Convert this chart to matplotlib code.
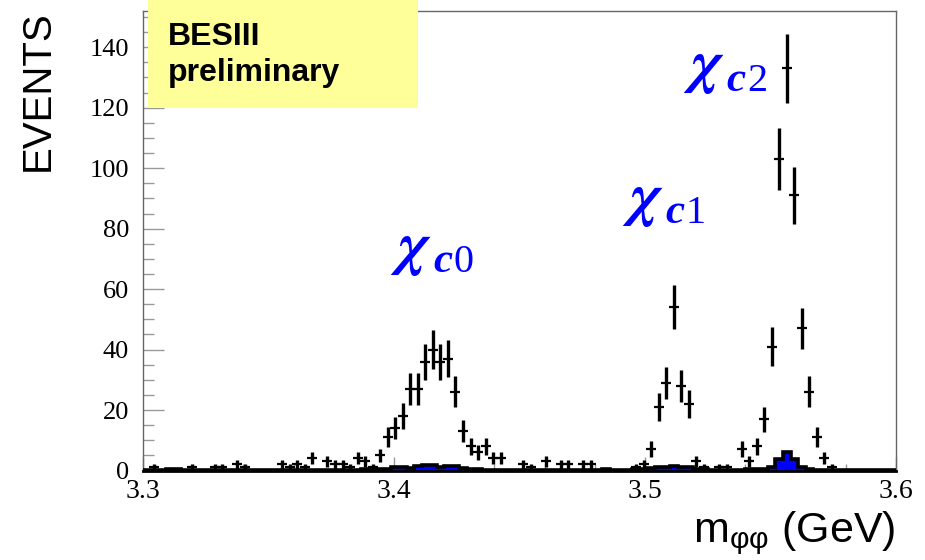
import matplotlib
matplotlib.use("Agg")
import matplotlib.pyplot as plt
import numpy as np
from matplotlib.patches import Rectangle
from matplotlib.ticker import MultipleLocator

# m(phi phi) histogram, 100 bins of 3 MeV from 3.3 to 3.6 GeV
mass_lo, mass_hi, n_bins = 3.3, 3.6, 100

# data counts per bin
counts = [
    0, 1, 0, 0, 0, 0, 1, 0, 0, 1,
    1, 0, 2, 1, 0, 0, 0, 0, 2, 1,
    2, 1, 4, 0, 3, 2, 2, 1, 4, 3,
    1, 5, 11, 14, 18, 27, 27, 36, 40, 36,
    37, 26, 13, 8, 6, 8, 4, 4, 0, 0,
    2, 1, 0, 3, 0, 2, 2, 0, 2, 2,
    0, 0, 0, 0, 0, 1, 2, 7, 21, 29,
    54, 28, 22, 3, 1, 0, 1, 1, 0, 7,
    3, 8, 17, 41, 103, 133, 91, 47, 26, 11,
    4, 1, 0, 0, 0, 0, 0, 0, 0, 0,
]

# background MC (blue filled histogram)
mc_bkg = [
    0.1, 0.1, 0.2, 0.4, 0.4, 0.2, 0.1, 0.2, 0.3, 0.2,
    0.2, 0.1, 0.2, 0.1, 0.1, 0.2, 0.2, 0.1, 0.2, 0.2,
    0.2, 0.2, 0.3, 0.3, 0.2, 0.2, 0.3, 0.3, 0.3, 0.4,
    0.5, 0.5, 0.6, 1.2, 1.2, 0.9, 1.6, 1.7, 1.7, 1.2,
    1.6, 1.6, 0.9, 0.5, 0.4, 0.3, 0.3, 0.2, 0.2, 0.2,
    0.2, 0.2, 0.2, 0.2, 0.2, 0.2, 0.2, 0.2, 0.2, 0.2,
    0.3, 0.4, 0.2, 0.2, 0.3, 0.4, 0.6, 0.7, 1.1, 1.3,
    1.4, 1.3, 1.1, 0.6, 0.4, 0.3, 0.3, 0.3, 0.3, 0.3,
    0.4, 0.6, 0.6, 1.3, 3.7, 6.2, 3.7, 1.3, 0.5, 0.3,
    0.2, 0.2, 0.1, 0.1, 0.1, 0.1, 0.1, 0.1, 0.1, 0.1,
]

# resonance labels: (left x in GeV, subscript baseline in events, subscript)
chi_labels = [
    (3.3984, 65.5, "0"),
    (3.4908, 81.8, "1"),
    (3.5151, 125.6, "2"),
]

counts = np.array(counts, dtype=float)
mc_bkg = np.array(mc_bkg)
edges = np.linspace(mass_lo, mass_hi, n_bins + 1)
centers = 0.5 * (edges[:-1] + edges[1:])
filled = counts > 0

fig = plt.figure(figsize=(9.25, 5.6), dpi=100)
ax = fig.add_axes([0.1546, 0.1598, 0.8140, 0.8206])

ax.stairs(mc_bkg, edges, fill=True, color="blue", zorder=2)
ax.stairs(mc_bkg, edges, color="black", lw=2.6, zorder=3)
ax.errorbar(
    centers[filled], counts[filled], yerr=np.sqrt(counts[filled]),
    fmt="_", color="black", ms=7, mew=1.6, elinewidth=2.4, capsize=0, zorder=4,
)

ax.set_xlim(mass_lo, mass_hi)
ax.set_ylim(0, 152)
ax.xaxis.set_major_locator(MultipleLocator(0.1))
ax.xaxis.set_minor_locator(MultipleLocator(0.02))
ax.yaxis.set_major_locator(MultipleLocator(20))
ax.yaxis.set_minor_locator(MultipleLocator(5))
ax.tick_params(which="both", direction="in", color="0.6", width=1,
               top=False, right=False)
ax.tick_params(axis="y", which="major", length=15, pad=10, labelsize=19)
ax.tick_params(axis="y", which="minor", length=8)
ax.tick_params(axis="x", which="major", length=10, pad=6, labelsize=20)
ax.tick_params(axis="x", which="minor", length=5)
ax.set_xticks([3.3, 3.4, 3.5, 3.6], ["3.3", "3.4", "3.5", "3.6"])
for lab in ax.get_xticklabels() + ax.get_yticklabels():
    lab.set_family("Liberation Serif")

for side in ["top", "right", "left"]:
    ax.spines[side].set_color("0.4")
    ax.spines[side].set_linewidth(1)
ax.spines["bottom"].set_color("black")
ax.spines["bottom"].set_linewidth(2)

for x0, y0, sub in chi_labels:
    ax.annotate(r"$\boldsymbol{\chi}$", (x0, y0), xytext=(0, 6), textcoords="offset points",
                fontsize=44, math_fontfamily="stix",
                color="blue", va="baseline", ha="left")
    ax.annotate("c", (x0, y0), xytext=(31, 0), textcoords="offset points",
                fontsize=31, style="italic", weight="bold", family="Liberation Serif",
                color="blue", va="baseline", ha="left")
    ax.annotate(sub, (x0, y0), xytext=(46, 0), textcoords="offset points",
                fontsize=29, family="Liberation Serif",
                color="blue", va="baseline", ha="left")

fig.text(895 / 925, 1 - 542 / 560, r"m$_{\mathregular{φφ}}$ (GeV)", ha="right",
         va="baseline", fontsize=31, family="Liberation Sans")
fig.text(38 / 925, 1 - 10 / 560, "EVENTS", rotation=90, ha="center", va="top",
         fontsize=29, family="Liberation Sans")

fig.add_artist(Rectangle((147.7 / 925, 1 - 108 / 560), 270 / 925, 108 / 560,
                         transform=fig.transFigure, facecolor="#ffff99",
                         edgecolor="none", zorder=5))
fig.text(168 / 925, 1 - 45 / 560, "BESIII", fontsize=23, weight="bold",
         family="Liberation Sans", va="baseline", zorder=6)
fig.text(168 / 925, 1 - 81 / 560, "preliminary", fontsize=23, weight="bold",
         family="Liberation Sans", va="baseline", zorder=6)

fig.savefig("out.png", dpi=100)
